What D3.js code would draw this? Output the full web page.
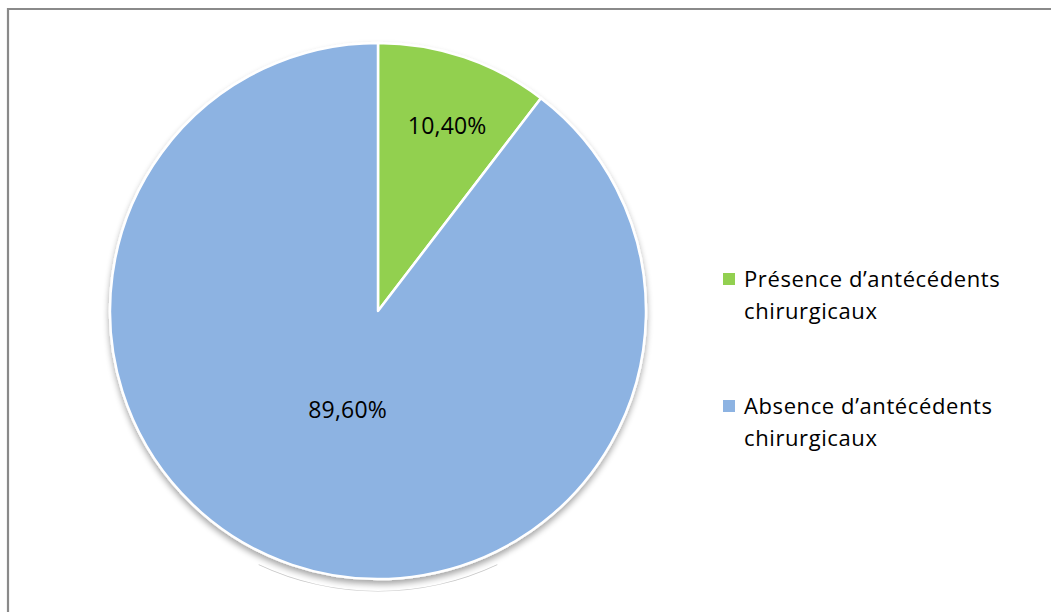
<!DOCTYPE html>
<html>
<head>
<meta charset="utf-8">
<script src="https://cdn.jsdelivr.net/npm/d3@7"></script>
<style>
  html, body { margin: 0; padding: 0; background: #fff; }
  svg { display: block; }
</style>
</head>
<body>
<svg id="chart" width="1051" height="612"></svg>
<script>
// Surgical history shares
const categories = ["Présence d’antécédents chirurgicaux", "Absence d’antécédents chirurgicaux"];
const legendLines = [["Présence d’antécédents", "chirurgicaux"], ["Absence d’antécédents", "chirurgicaux"]];
const values = [10.4, 89.6];
const valueLabels = ["10,40%", "89,60%"];
const colors = ["#92D050", "#8DB3E2"];

const svg = d3.select("#chart");
const W = 1051, H = 612;
const cx = 378, cy = 311, R = 268;
const fontFamily = "'Open Sans', 'Noto Sans', sans-serif";

// frame
svg.append("path")
  .attr("d", `M8,${H} L8,9 L${W},9`)
  .attr("fill", "none")
  .attr("stroke", "#8a8a8a")
  .attr("stroke-width", 2.2);

// soft drop shadow under the pie
const defs = svg.append("defs");
const f = defs.append("filter").attr("id", "shadow")
  .attr("x", "-10%").attr("y", "-10%").attr("width", "120%").attr("height", "125%");
f.append("feGaussianBlur").attr("in", "SourceAlpha").attr("stdDeviation", 3).attr("result", "b");
f.append("feOffset").attr("in", "b").attr("dy", 4).attr("result", "o");
f.append("feComponentTransfer").attr("in", "o").attr("result", "s")
  .append("feFuncA").attr("type", "linear").attr("slope", 0.35);
const m = f.append("feMerge");
m.append("feMergeNode").attr("in", "s");
m.append("feMergeNode").attr("in", "SourceGraphic");

const pie = d3.pie().sort(null).value(d => d);
const arcs = pie(values);
const arc = d3.arc().innerRadius(0).outerRadius(R);

const g = svg.append("g").attr("transform", `translate(${cx},${cy})`);

// faint arc below the pie
g.append("path")
  .attr("d", d3.arc().innerRadius(R + 12).outerRadius(R + 12.6)
    .startAngle(Math.PI * 0.86).endAngle(Math.PI * 1.14)())
  .attr("fill", "#c8c8c8");

const slices = g.append("g").attr("filter", "url(#shadow)");
slices.selectAll("path")
  .data(arcs)
  .join("path")
  .attr("d", arc)
  .attr("fill", (d, i) => colors[i])
  .attr("stroke", "#fff")
  .attr("stroke-width", 2.5)
  .attr("stroke-linejoin", "round");

// value labels, placed from each slice's centroid
const labelPos = [
  d => { const [x, y] = d3.arc().innerRadius(R * 0.7).outerRadius(R * 0.7).centroid(d); return [x + 9, y - 8]; },
  d => { const [x, y] = d3.arc().innerRadius(R * 0.4).outerRadius(R * 0.4).centroid(d); return [x + 4, y - 3]; }
];
g.selectAll("text.val")
  .data(arcs)
  .join("text")
  .attr("class", "val")
  .attr("transform", (d, i) => `translate(${labelPos[i](d)})`)
  .attr("text-anchor", "middle")
  .attr("dy", "0.36em")
  .attr("font-family", fontFamily)
  .attr("font-size", 23)
  .attr("letter-spacing", 0.2)
  .attr("fill", "#000")
  .text((d, i) => valueLabels[i]);

// legend
const legend = svg.append("g").attr("transform", "translate(723,0)");
const rowY = [273, 400];
categories.forEach((c, i) => {
  const row = legend.append("g").attr("transform", `translate(0,${rowY[i]})`);
  row.append("rect").attr("width", 12).attr("height", 12).attr("fill", colors[i]);
  legendLines[i].forEach((line, j) => {
    row.append("text")
      .attr("x", 21)
      .attr("y", 14 + j * 32)
      .attr("font-family", fontFamily)
      .attr("font-size", 22)
      .attr("letter-spacing", 0.6)
      .attr("fill", "#000")
      .text(line);
  });
});
</script>
</body>
</html>
